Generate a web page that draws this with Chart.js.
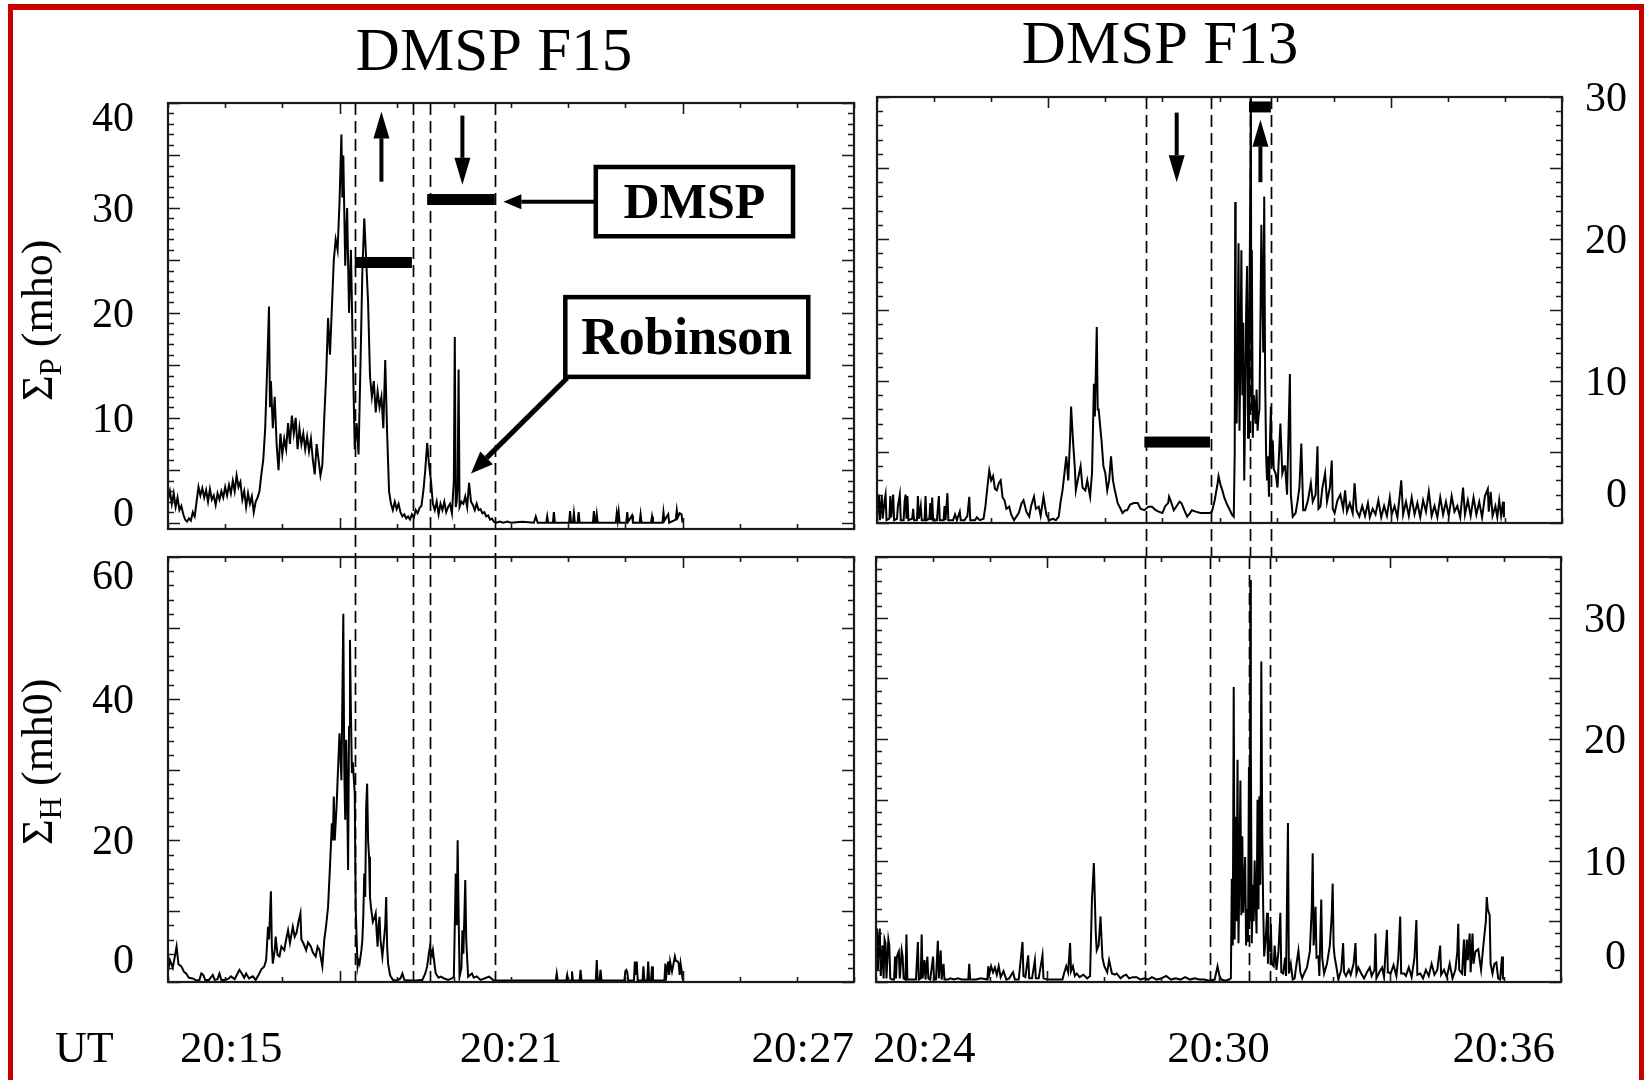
<!DOCTYPE html>
<html>
<head>
<meta charset="utf-8">
<title>DMSP F15 / F13 conductance</title>
<script src="https://cdn.jsdelivr.net/npm/chart.js@4.4.1/dist/chart.umd.min.js"></script>
<style>
  body { margin: 0; background: #fff; }
  #page { position: relative; width: 1644px; height: 1080px; overflow: hidden; background: #fff; }
  #page canvas { position: absolute; left: 0; top: 0; }
  #frame { position: absolute; left: 8px; top: 4px; width: 1636px; height: 1076px; box-sizing: border-box;
           border-style: solid; border-color: #c80000; border-width: 6px 5px 0 5px; }
</style>
</head>
<body>
<div id="page">
  <div id="frame"></div>
  <canvas id="f15p" width="1644" height="1080"></canvas>
  <canvas id="f13p" width="1644" height="1080"></canvas>
  <canvas id="f15h" width="1644" height="1080"></canvas>
  <canvas id="f13h" width="1644" height="1080"></canvas>
</div>
<script>
// time = seconds after 20:15:00 (F15) or 20:24:00 (F13), value in mho
const f15SigmaP = [
  [0,2.2],[2,3.0],[4,1.8],[6,2.8],[8,1.5],[10,2.4],[12,1.2],[14,1.6],[16,0.8],[18,0.3],
  [20,0.1],[22,0.4],[24,0.2],[26,1.0],[28,0.6],[30,2.0],[32,3.4],[34,2.6],[36,3.3],[38,2.4],
  [40,3.1],[42,2.0],[44,3.2],[46,2.2],[48,2.6],[50,1.7],[52,2.8],[54,2.2],[56,3.0],[58,2.4],
  [60,3.4],[62,2.6],[64,3.6],[66,2.8],[68,4.0],[70,3.0],[72,4.5],[74,3.4],[76,3.9],[78,2.2],
  [80,3.0],[82,1.5],[84,2.8],[86,1.8],[88,2.5],[90,1.0],[92,2.0],[94,2.4],[96,3.0],[98,4.6],
  [100,6.0],[102,9.0],[104,14.5],[106,20.6],[107,11.0],[108,13.5],[110,9.0],[112,12.0],[114,7.5],[116,5.0],
  [118,8.5],[120,6.5],[122,8.0],[124,7.0],[126,9.5],[128,7.5],[130,10.2],[132,8.5],[134,10.0],[136,7.0],
  [138,9.0],[140,7.5],[142,8.5],[144,7.0],[146,8.2],[148,6.8],[150,8.0],[152,6.0],[154,4.6],[156,7.5],
  [158,6.0],[160,4.5],[162,5.5],[164,10.0],[166,14.0],[168,19.5],[170,16.0],[172,20.5],[174,25.0],[176,27.0],
  [178,26.0],[180,30.5],[182,37.0],[183,31.0],[184,35.0],[186,24.5],[188,30.0],[190,20.0],[192,26.0],[194,16.0],
  [196,7.0],[198,9.5],[200,6.5],[202,15.0],[204,24.0],[206,29.0],[208,25.0],[210,21.0],[212,14.0],[214,12.0],
  [216,13.5],[218,10.5],[220,12.5],[222,11.0],[224,12.0],[226,9.0],[228,15.5],[230,8.5],[232,3.0],[234,1.8],
  [236,1.2],[238,2.0],[240,1.3],[242,1.8],[244,1.0],[246,0.6],[248,0.8],[250,0.4],[252,0.6],[254,0.3],
  [256,0.8],[258,0.5],[260,1.2],[262,0.9],[264,1.4],[266,1.6],[268,3.0],[270,5.0],[272,7.6],[274,5.5],
  [276,4.0],[278,1.8],[280,1.2],[282,2.0],[284,0.8],[286,1.8],[288,1.2],[290,2.0],[292,1.0],[294,1.5],
  [296,1.8],[298,0.9],[300,4.0],[301,17.7],[302,1.5],[303,2.0],[304,3.5],[305,14.6],[306,1.5],[308,2.0],
  [310,1.8],[312,2.5],[314,1.5],[316,3.8],[318,2.0],[320,1.7],[322,1.2],[324,1.8],[326,1.2],[328,1.3],
  [330,0.9],[332,1.0],[334,0.6],[336,0.7],[338,0.3],[340,0.4],[342,0.1],[345,0.0],[348,0.1],[352,0.0],
  [356,0.1],[360,0.0],[372,0.1],[384,0.0],[386,0.6],[388,0.0],[397,0.0],[398,0.6],[399,0.0],[404,0.0],
  [405,1.0],[406,0.0],[421,0.0],[422,1.1],[423,0.0],[425,0.0],[426,0.9],[427,0.0],[430,0.0],[431,1.0],
  [432,0.0],[446,0.0],[447,1.1],[448,0.0],[449,0.0],[450,0.8],[451,0.0],[470,0.0],[471,0.9],[472,0.2],
  [473,1.0],[474,0.0],[481,0.0],[482,1.0],[483,0.1],[487,0.7],[488,0.0],[495,0.0],[496,0.8],[497,0.0],
  [507,0.0],[508,0.6],[509,0.0],[519,0.0],[520,1.0],[521,0.2],[525,0.8],[526,0.0],[533,0.3],[534,1.2],
  [535,0.5],[537,0.9],[539,0.8],[540,0.0]
];

const f15SigmaH = [
  [0,1.5],[2,3.1],[5,2.0],[8,4.2],[9,5.0],[11,2.5],[14,2.2],[17,1.4],[19,1.2],[22,0.6],
  [26,0.5],[30,0.2],[33,0.3],[35,1.2],[37,1.0],[39,0.3],[43,0.3],[47,1.0],[49,0.3],[52,0.4],
  [54,1.2],[56,0.3],[60,0.3],[64,0.5],[66,0.8],[70,0.4],[73,1.2],[75,1.7],[77,1.3],[80,0.6],
  [82,1.2],[85,0.5],[89,0.8],[92,0.3],[95,1.0],[98,1.8],[101,2.2],[103,3.1],[105,7.8],[106,6.0],
  [108,12.8],[109,5.0],[110,2.6],[112,4.5],[113,6.4],[115,3.8],[117,3.6],[119,5.0],[122,4.5],[124,6.0],
  [126,7.3],[128,5.5],[131,7.8],[133,6.4],[135,7.0],[137,8.5],[139,9.7],[140,6.0],[142,5.5],[145,4.5],
  [147,5.6],[150,5.0],[152,4.2],[155,3.6],[157,5.0],[159,4.5],[162,2.2],[164,5.9],[166,8.0],[168,10.6],
  [170,16.3],[172,22.4],[173,20.0],[174,26.2],[175,20.0],[177,25.0],[178,28.5],[180,35.1],[182,28.5],[183,40.0],
  [184,52.0],[185,30.0],[186,22.9],[187,34.2],[188,27.0],[189,15.8],[190,36.0],[191,48.3],[192,38.0],[193,29.5],
  [194,31.0],[196,26.6],[197,10.6],[198,6.0],[199,2.2],[200,3.0],[201,2.6],[203,4.5],[204,5.9],[205,9.5],
  [206,15.3],[207,12.0],[208,24.8],[209,28.0],[210,20.0],[211,17.7],[212,12.0],[213,10.6],[215,8.5],[217,9.2],
  [218,9.7],[219,7.0],[220,5.0],[221,8.0],[222,9.2],[223,6.0],[225,3.6],[226,5.0],[228,8.0],[229,12.0],
  [230,5.0],[231,2.6],[233,1.0],[234,0.75],[236,0.3],[240,0.2],[244,0.5],[246,1.2],[248,0.3],[255,0.2],
  [260,0.2],[265,0.3],[267,0.3],[270,1.2],[272,2.2],[274,4.2],[275,5.0],[277,3.8],[278,4.5],[280,2.2],
  [281,1.2],[284,0.6],[286,0.75],[290,0.5],[294,0.3],[298,0.5],[300,0.75],[301,8.0],[302,15.3],[303,8.0],
  [304,20.0],[305,10.0],[306,0.75],[308,2.0],[309,7.3],[310,4.0],[311,9.0],[312,14.4],[313,6.0],[315,0.75],
  [317,1.0],[319,1.2],[321,0.6],[324,0.8],[328,0.3],[332,0.5],[337,0.75],[342,0.2],[360,0.2],[380,0.2],
  [400,0.2],[407,0.2],[408,1.2],[409,0.2],[418,0.2],[419,1.0],[420,0.2],[423,0.2],[424,1.5],[425,0.2],
  [432,0.2],[433,1.7],[434,0.2],[449,0.2],[450,3.1],[451,0.3],[453,0.3],[454,1.7],[455,0.2],[479,0.2],
  [480,1.5],[481,1.7],[482,1.4],[483,0.2],[489,0.2],[490,2.9],[491,1.0],[492,2.9],[493,0.2],[498,0.2],
  [499,2.2],[500,0.2],[503,0.2],[504,2.9],[505,0.2],[507,0.2],[508,2.2],[509,0.2],[521,0.2],[522,2.6],
  [523,0.8],[525,2.9],[526,1.0],[527,2.9],[529,1.5],[532,3.6],[533,3.0],[535,2.9],[536,2.6],[537,1.0],
  [538,2.6],[539,1.7],[540,0.5],[541,0.2]
];

const f13SigmaP = [
  [0,0.3],[2,2.0],[3,0.2],[5,1.9],[6,0.3],[8,1.6],[9,2.0],[10,0.2],[13,0.3],[14,1.9],
  [15,0.4],[17,2.0],[18,0.2],[21,0.3],[22,1.2],[24,2.0],[25,0.2],[28,0.2],[29,1.5],[30,2.0],
  [31,0.3],[32,1.9],[33,0.2],[37,0.3],[38,1.0],[39,0.2],[42,0.2],[43,1.9],[44,0.3],[46,1.2],
  [47,0.2],[50,0.2],[51,1.9],[52,0.2],[55,0.3],[56,1.4],[57,0.2],[58,1.8],[59,0.2],[63,0.2],
  [65,1.9],[66,0.2],[70,0.2],[71,1.2],[72,0.2],[74,2.1],[75,0.2],[80,0.2],[82,0.6],[84,0.2],
  [87,0.8],[88,0.2],[92,0.2],[95,0.5],[97,1.85],[98,0.2],[103,0.2],[105,0.4],[108,0.2],[112,0.3],
  [114,1.2],[116,2.5],[118,3.7],[120,3.0],[122,3.3],[124,2.4],[126,2.3],[128,2.8],[130,3.0],[132,1.8],
  [134,1.6],[136,1.0],[139,1.15],[141,0.6],[144,0.2],[147,0.5],[149,0.7],[152,1.4],[154,1.6],[157,0.8],
  [160,0.45],[162,1.2],[165,1.85],[167,1.0],[170,1.15],[172,0.5],[175,1.85],[178,0.6],[181,0.2],[185,0.3],
  [188,0.2],[191,0.45],[193,1.5],[195,2.3],[197,3.5],[199,4.7],[201,3.0],[203,6.0],[204,8.2],[206,5.8],
  [208,3.8],[209,2.3],[211,3.0],[214,4.0],[216,2.5],[219,2.3],[221,3.0],[224,1.85],[226,3.5],[228,9.8],
  [229,7.5],[231,13.8],[232,8.0],[233,8.0],[235,6.5],[236,5.8],[238,4.0],[240,3.5],[242,2.3],[244,3.0],
  [246,4.7],[248,3.0],[250,2.3],[253,1.4],[256,1.0],[258,0.7],[261,0.9],[263,0.9],[266,1.3],[270,1.4],
  [274,1.4],[277,1.0],[281,0.9],[285,1.15],[289,1.15],[293,0.9],[296,0.8],[300,0.7],[303,1.2],[306,1.4],
  [307,1.85],[309,1.5],[312,0.9],[315,1.2],[318,1.5],[320,1.4],[323,0.9],[326,0.45],[329,0.7],[331,0.9],
  [335,0.8],[340,0.7],[345,0.7],[350,0.7],[352,0.8],[355,1.6],[358,2.8],[359,3.3],[361,2.7],[363,2.3],
  [365,1.8],[368,1.3],[371,0.9],[373,0.6],[375,0.45],[376,5.0],[376.5,22.6],[377,10.0],[378,7.0],[379,12.0],
  [380,19.7],[381,6.5],[382,12.0],[383,19.2],[384,9.0],[385,14.1],[386,3.0],[387,8.2],[388,15.0],[389,18.1],
  [390,6.0],[391,12.0],[392,20.0],[393,30.0],[393.5,8.0],[394,19.2],[395,6.0],[396,9.0],[397,8.2],[398,7.0],
  [399,9.4],[400,6.5],[401,7.5],[402,8.0],[403,14.1],[404,21.0],[405,16.4],[406,12.0],[407,23.0],[408,10.0],
  [409,4.7],[410,3.0],[411,4.7],[412,1.85],[413,5.5],[414,8.2],[415,4.0],[416,5.8],[417,3.8],[419,3.5],
  [421,2.5],[424,7.0],[426,3.5],[428,4.0],[429,4.0],[431,2.0],[434,10.5],[435,2.0],[437,0.45],[440,0.7],
  [442,1.5],[444,2.5],[446,5.6],[448,0.9],[450,0.9],[453,1.6],[456,2.8],[458,1.5],[461,2.0],[463,5.4],
  [464,1.0],[466,1.15],[468,2.4],[471,3.5],[473,1.5],[476,2.5],[478,4.4],[479,1.0],[481,0.7],[484,1.6],
  [487,2.0],[490,1.0],[492,2.3],[494,0.8],[497,1.4],[500,0.7],[502,2.8],[504,0.9],[507,0.45],[510,1.2],
  [513,0.5],[516,1.4],[518,0.4],[521,1.0],[524,0.6],[527,1.6],[530,0.4],[533,1.2],[536,0.5],[539,1.8],
  [541,0.6],[544,1.2],[547,0.4],[550,2.3],[551,3.0],[553,0.6],[556,1.5],[559,0.5],[562,1.8],[565,0.6],
  [568,1.4],[571,0.4],[574,1.6],[577,0.8],[580,2.2],[583,0.5],[586,1.2],[589,0.4],[592,1.8],[595,0.6],
  [598,1.5],[601,0.5],[604,1.9],[607,0.8],[610,1.2],[613,0.4],[616,2.5],[618,0.6],[621,1.6],[624,0.5],
  [627,1.8],[630,0.6],[633,1.5],[636,0.4],[639,1.9],[642,2.4],[643,0.8],[645,2.2],[647,0.5],[650,1.2],
  [652,0.4],[654,1.6],[656,0.5],[658,1.5],[659,0.4]
];

const f13SigmaH = [
  [0,2.0],[1,4.4],[2,1.0],[3,3.5],[4,4.4],[5,0.5],[7,3.0],[8,0.3],[9,3.5],[10,3.2],
  [11,0.3],[13,3.5],[14,3.0],[15,0.3],[17,0.2],[19,0.2],[20,2.1],[21,0.3],[22,2.1],[24,2.5],
  [25,0.3],[27,2.6],[28,2.1],[29,0.3],[31,0.2],[32,3.9],[33,0.2],[37,0.2],[40,0.2],[42,0.2],
  [44,3.3],[45,0.2],[47,0.3],[48,3.9],[49,0.3],[51,1.8],[52,0.2],[54,2.1],[55,0.3],[57,0.2],
  [60,2.1],[61,0.2],[63,0.2],[65,3.4],[66,0.3],[68,2.6],[69,0.2],[71,1.5],[72,0.2],[76,0.2],
  [78,0.3],[82,0.2],[86,0.3],[90,0.2],[97,0.2],[98,1.5],[99,0.2],[105,0.2],[110,0.3],[117,0.2],
  [118,1.3],[119,0.6],[121,1.3],[123,0.8],[125,1.2],[127,0.6],[129,1.3],[131,0.4],[134,0.9],[137,0.2],
  [140,0.3],[144,0.8],[146,0.2],[150,0.2],[154,3.3],[155,0.5],[157,0.4],[160,2.2],[161,0.3],[164,0.3],
  [167,1.8],[168,0.3],[171,0.3],[175,2.2],[176,0.3],[180,0.2],[185,0.2],[190,0.2],[196,0.2],[198,0.8],
  [200,1.3],[202,0.8],[204,3.2],[205,0.9],[207,1.3],[209,0.5],[211,0.7],[214,0.4],[218,0.6],[222,0.3],
  [225,0.5],[227,6.8],[229,9.8],[231,4.0],[232,2.6],[234,3.0],[236,5.4],[238,2.0],[240,1.3],[243,0.8],
  [245,1.8],[248,0.7],[251,0.6],[253,0.7],[257,0.3],[260,0.5],[263,0.6],[266,0.3],[270,0.4],[274,0.4],
  [278,0.2],[282,0.3],[286,0.2],[290,0.4],[295,0.2],[300,0.3],[305,0.5],[310,0.2],[315,0.3],[320,0.2],
  [325,0.4],[330,0.2],[335,0.3],[340,0.2],[345,0.2],[350,0.1],[356,0.2],[359,1.3],[361,0.5],[363,0.2],
  [367,0.1],[371,0.2],[373,0.3],[374,8.5],[375,3.0],[376,24.3],[377,3.5],[378,13.6],[379,5.0],[380,18.3],
  [381,3.2],[382,9.0],[383,16.6],[384,5.5],[385,12.0],[386,5.7],[387,8.0],[388,10.3],[389,3.0],[390,6.0],
  [391,3.3],[392,17.7],[393,5.0],[393.5,33.1],[394,19.1],[395,3.2],[396,8.0],[397,5.0],[398,10.0],[399,7.0],
  [400,4.0],[401,15.0],[402,6.0],[403,15.3],[404,8.0],[405,26.4],[406,12.0],[407,6.0],[408,2.1],[410,4.0],
  [411,5.7],[412,1.5],[413,3.5],[414,2.5],[415,4.8],[416,1.5],[418,1.3],[419,3.0],[421,1.0],[423,2.5],
  [425,5.7],[426,0.8],[428,0.7],[430,2.0],[431,0.5],[433,13.1],[434,0.7],[436,1.5],[438,0.2],[440,0.3],
  [442,1.5],[444,2.6],[446,0.8],[448,0.3],[450,0.7],[453,1.2],[456,2.5],[458,6.0],[459,10.6],[460,3.0],
  [462,6.2],[463,2.0],[465,2.1],[466,0.5],[468,6.8],[469,2.0],[471,0.7],[474,1.5],[477,3.0],[479,5.5],
  [480,8.1],[481,3.0],[482,2.1],[484,1.2],[486,0.2],[489,1.0],[491,3.2],[492,0.8],[494,0.5],[497,1.0],
  [499,0.6],[502,1.5],[504,3.2],[505,0.7],[507,1.2],[510,0.7],[513,0.3],[516,0.8],[519,1.2],[521,0.5],
  [524,1.0],[525,4.0],[526,0.3],[529,0.8],[532,1.2],[534,0.4],[537,4.3],[538,0.8],[541,0.7],[544,1.4],
  [547,0.5],[549,2.0],[551,5.4],[552,0.7],[555,0.7],[557,0.5],[560,1.2],[563,0.4],[566,2.0],[568,5.1],
  [569,0.6],[572,0.7],[575,0.3],[578,1.0],[581,0.5],[584,1.5],[587,0.6],[590,1.0],[593,3.0],[594,0.6],
  [597,1.0],[600,0.4],[603,1.5],[606,0.3],[609,1.0],[611,2.5],[612,4.8],[613,1.0],[616,0.7],[618,3.5],
  [619,0.5],[621,3.5],[622,1.8],[624,4.0],[625,0.8],[627,4.0],[628,1.5],[630,2.5],[633,2.7],[636,1.0],
  [639,3.5],[641,5.0],[642,7.0],[643,6.0],[645,5.5],[646,1.5],[648,0.7],[650,1.5],[652,1.6],[654,0.3],
  [656,0.2],[658,2.1],[659,0.2]
];

// region boundaries (dashed), bars [t1, t2, value], arrows [t1, v1, t2, v2 (tip)]
const f15Cuts = [196, 257, 275, 343];
const f13Cuts = [283, 351, 392, 414];
const f15Bars = [[196, 256, 24.8], [272, 343, 30.8]];
const f13Bars = [[281, 350, 5.7], [391, 414, 29.3]];
const f15Arrows = [[224, 32.5, 224, 39.2], [309, 38.8, 309, 32.2]];
const f13Arrows = [[315, 28.9, 315, 24.0], [403, 24.0, 403, 28.4]];

const f15PTicks = [0, 10, 20, 30, 40];
const f15HTicks = [0, 20, 40, 60];
const f13PTicks = [0, 10, 20, 30];
const f13HTicks = [0, 10, 20, 30];
const timeTicks = [0, 360, 720];
const f15TimeLabels = ['20:15', '20:21', '20:27'];
const f13TimeLabels = ['20:24', '20:30', '20:36'];

const SERIF = '"Liberation Serif", "Times New Roman", serif';

function arrow(ctx, x1, y1, x2, y2, w, hl, hw) {
  const ang = Math.atan2(y2 - y1, x2 - x1);
  const bx = x2 - hl * Math.cos(ang), by = y2 - hl * Math.sin(ang);
  ctx.lineWidth = w;
  ctx.beginPath(); ctx.moveTo(x1, y1); ctx.lineTo(bx, by); ctx.stroke();
  ctx.beginPath();
  ctx.moveTo(x2, y2);
  ctx.lineTo(bx + hw * Math.sin(ang), by - hw * Math.cos(ang));
  ctx.lineTo(bx - hw * Math.sin(ang), by + hw * Math.cos(ang));
  ctx.closePath(); ctx.fill();
}

function decor(cfg) {
  return {
    id: 'decor',
    afterDatasetsDraw(chart) {
      const ctx = chart.ctx, a = chart.chartArea;
      const xs = chart.scales.x, ys = chart.scales.y;
      const X = v => xs.getPixelForValue(v), Y = v => ys.getPixelForValue(v);
      ctx.save();
      ctx.strokeStyle = '#000'; ctx.fillStyle = '#000';

      // dashed boundaries
      ctx.lineWidth = 1.7; ctx.setLineDash([12, 6]);
      cfg.cuts.forEach(t => {
        const px = Math.round(X(t)) + 0.5;
        ctx.beginPath(); ctx.moveTo(px, a.top); ctx.lineTo(px, a.bottom + cfg.cutBelow); ctx.stroke();
      });
      ctx.setLineDash([]);

      (cfg.bars || []).forEach(b => {
        const y = Y(b[2]);
        ctx.fillRect(X(b[0]), y - 5.5, X(b[1]) - X(b[0]), 11);
      });
      (cfg.arrows || []).forEach(r => arrow(ctx, X(r[0]), Y(r[1]), X(r[2]), Y(r[3]), 4, 27, 8));

      (cfg.callouts || []).forEach(c => {
        const x1 = X(c.box[0]), x2 = X(c.box[1]), y1 = Y(c.box[2]), y2 = Y(c.box[3]);
        ctx.fillStyle = '#fff'; ctx.fillRect(x1, y1, x2 - x1, y2 - y1);
        ctx.fillStyle = '#000'; ctx.lineWidth = 4.5;
        ctx.strokeRect(x1, y1, x2 - x1, y2 - y1);
        ctx.font = 'bold ' + c.size + 'px ' + SERIF;
        ctx.textAlign = 'center'; ctx.textBaseline = 'alphabetic';
        ctx.fillText(c.text, (x1 + x2) / 2, (y1 + y2) / 2 + c.size * 0.33);
        arrow(ctx, X(c.from[0]), Y(c.from[1]), X(c.to[0]), Y(c.to[1]), c.lw, c.head[0], c.head[1]);
      });

      // panel frame and inward ticks
      ctx.strokeStyle = '#1a1a1a'; ctx.lineWidth = 2.2;
      ctx.strokeRect(a.left, a.top, a.right - a.left, a.bottom - a.top);
      ctx.lineWidth = 1.6; ctx.beginPath();
      for (let k = Math.ceil(ys.min / cfg.yMinor); k * cfg.yMinor <= ys.max + 1e-9; k++) {
        const py = Math.round(Y(k * cfg.yMinor)) + 0.5;
        const len = (k % cfg.yEvery === 0) ? 12 : 6;
        ctx.moveTo(a.left, py); ctx.lineTo(a.left + len, py);
        ctx.moveTo(a.right, py); ctx.lineTo(a.right - len, py);
      }
      for (let t = 0; t <= 720; t += 60) {
        const px = Math.round(X(t)) + 0.5, len = ((t - 180) % 360 === 0) ? 11 : 5;
        ctx.moveTo(px, a.top); ctx.lineTo(px, a.top + len);
        ctx.moveTo(px, a.bottom); ctx.lineTo(px, a.bottom - len);
      }
      ctx.stroke();

      // y tick labels
      ctx.fillStyle = '#000';
      ctx.font = '42px ' + SERIF; ctx.textAlign = 'right'; ctx.textBaseline = 'alphabetic';
      cfg.yLabels.forEach(v => {
        let py = Y(v);
        py = Math.min(Math.max(py, a.top + cfg.yClamp[0]), a.bottom - cfg.yClamp[1]);
        const lx = cfg.side === 'left' ? a.left - 34 : a.right + 65;
        ctx.fillText(String(v), lx, py + 14);
      });

      // time labels
      if (cfg.timeLabels) {
        ctx.font = '45px ' + SERIF; ctx.textAlign = 'center';
        timeTicks.forEach((t, i) => {
          const txt = cfg.timeLabels[i], w = ctx.measureText(txt).width;
          let cx = X(t);
          cx = Math.min(Math.max(cx, a.left + cfg.xInset[0] + w / 2), a.right - cfg.xInset[1] - w / 2);
          ctx.fillText(txt, cx, a.bottom + 80);
        });
      }
      if (cfg.ut) {
        ctx.font = '44px ' + SERIF; ctx.textAlign = 'left';
        ctx.fillText('UT', cfg.ut[0], cfg.ut[1]);
      }

      if (cfg.title) {
        ctx.font = '61px ' + SERIF; ctx.textAlign = 'center';
        ctx.fillText(cfg.title.text, cfg.title.x, cfg.title.y);
      }

      if (cfg.yTitle) {
        const t = cfg.yTitle;
        ctx.translate(t.x, t.y); ctx.rotate(-Math.PI / 2); ctx.textAlign = 'left';
        ctx.font = '44px ' + SERIF; ctx.fillText('\u03A3', 0, 0);
        let w = ctx.measureText('\u03A3').width;
        ctx.font = '31px ' + SERIF; ctx.fillText(t.sub, w, 9);
        w += ctx.measureText(t.sub).width;
        ctx.font = '44px ' + SERIF; ctx.fillText(t.rest, w, 0);
      }
      ctx.restore();
    }
  };
}

function makePanel(id, series, yMin, yMax, pad, cfg) {
  return new Chart(document.getElementById(id), {
    type: 'line',
    data: {
      datasets: [{
        data: series.map(p => ({ x: p[0], y: p[1] })),
        borderColor: '#000', borderWidth: 2, pointRadius: 0, tension: 0, borderJoinStyle: 'miter'
      }]
    },
    options: {
      responsive: false, animation: false, devicePixelRatio: 1,
      layout: { padding: pad },
      scales: {
        x: { type: 'linear', min: 0, max: 720, display: false },
        y: { type: 'linear', min: yMin, max: yMax, display: false }
      },
      plugins: { legend: { display: false }, tooltip: { enabled: false } }
    },
    plugins: [decor(cfg)]
  });
}

makePanel('f15p', f15SigmaP, -0.6, 40, { left: 168, top: 103, right: 790, bottom: 551 }, {
  cuts: f15Cuts, cutBelow: 28, bars: f15Bars, arrows: f15Arrows,
  yMinor: 1, yEvery: 5, yLabels: f15PTicks, side: 'left', yClamp: [14, 17],
  title: { text: 'DMSP F15', x: 494, y: 70 },
  yTitle: { sub: 'P', rest: ' (mho)', x: 52, y: 401 },
  callouts: [
    { text: 'DMSP', size: 50, box: [449, 656, 33.9, 27.3], from: [449, 30.6], to: [352, 30.6], lw: 4, head: [18, 7.5] },
    { text: 'Robinson', size: 52, box: [417, 672, 21.5, 13.9], from: [419, 13.8], to: [318, 4.7], lw: 5, head: [22, 9] }
  ]
});

makePanel('f13p', f13SigmaP, 0, 30, { left: 877, top: 97, right: 82, bottom: 557 }, {
  cuts: f13Cuts, cutBelow: 34, bars: f13Bars, arrows: f13Arrows,
  yMinor: 1, yEvery: 5, yLabels: f13PTicks, side: 'right', yClamp: [0, 30],
  title: { text: 'DMSP F13', x: 1160, y: 63 }
});

makePanel('f15h', f15SigmaH, 0, 60, { left: 168, top: 557, right: 790, bottom: 98 }, {
  cuts: f15Cuts, cutBelow: 0,
  yMinor: 2, yEvery: 5, yLabels: f15HTicks, side: 'left', yClamp: [18, 23],
  timeLabels: f15TimeLabels, xInset: [12, 0], ut: [55, 1062],
  yTitle: { sub: 'H', rest: ' (mh0)', x: 52, y: 845 }
});

makePanel('f13h', f13SigmaH, 0, 35, { left: 876, top: 557, right: 83, bottom: 98 }, {
  cuts: f13Cuts, cutBelow: 0,
  yMinor: 1, yEvery: 5, yLabels: f13HTicks, side: 'right', yClamp: [14, 27],
  timeLabels: f13TimeLabels, xInset: [-3, 6]
});
</script>
</body>
</html>
